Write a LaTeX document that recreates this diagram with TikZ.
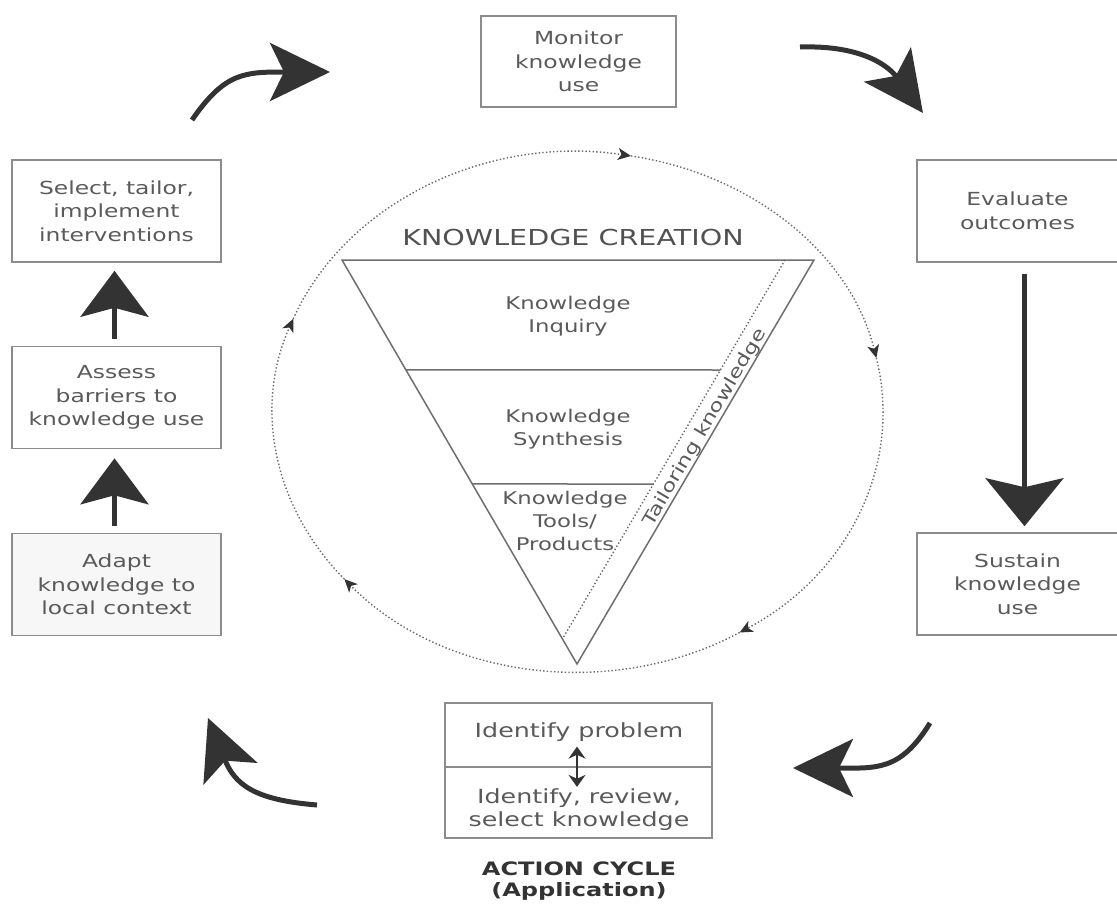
\documentclass[tikz,border=0pt]{standalone}
\usepackage{fontspec}
\setmainfont{DejaVu Sans}[FakeStretch=1.3]
\usetikzlibrary{arrows.meta,calc}
\definecolor{boxgray}{HTML}{8C8C8C}
\definecolor{txtgray}{HTML}{5A5A5A}
\definecolor{arrdark}{HTML}{333333}
\definecolor{trigray}{HTML}{6E6E6E}
\definecolor{dotgray}{HTML}{6A6A6A}
\definecolor{adaptfill}{HTML}{F7F7F7}
\begin{document}
\begin{tikzpicture}
  [x=1pt, y=-1pt,
   box/.style={draw=boxgray, line width=1.6pt, minimum width=209pt, minimum height=102pt, inner sep=0pt, align=center, text=txtgray, font=\fontsize{18}{23.5}\selectfont},
   tritext/.style={align=center, text=txtgray, inner sep=0pt, font=\fontsize{17.5}{23}\selectfont},
   dots/.style={draw=dotgray, line width=1.4pt, dash pattern=on 1.4pt off 2.2pt},
   bigarr/.style={draw=arrdark, line width=5pt, -{Stealth[length=60pt, width=58pt, inset=14pt]}},
   uparr/.style={draw=arrdark, line width=5pt, -{Stealth[length=46pt, width=68pt, inset=9pt]}},
   dbl/.style={draw=arrdark, line width=2.5pt, {Stealth[length=12pt, width=17pt]}-{Stealth[length=12pt, width=17pt]}},
   cyc/.style={dots, -{Stealth[length=13pt, width=12pt, inset=3.5pt, color=arrdark]}}]
  \useasboundingbox (0,0) rectangle (1117,905);
  % Define boxes
  \node[box, minimum width=195pt, minimum height=91pt] (monitor) at (578.5,61.5) {Monitor\\knowledge\\use};
  \node[box] (select) at (116.5,211) {Select, tailor,\\implement\\interventions};
  \node[box] (assess) at (116.5,397.5) {Assess\\barriers to\\knowledge use};
  \node[box, fill=adaptfill] (adapt) at (116.5,584.5) {Adapt\\knowledge to\\local context};
  \node[box, minimum width=201pt] (evaluate) at (1017.5,211) {Evaluate\\outcomes};
  \node[box, minimum width=201pt] (sustain) at (1017.5,584) {Sustain\\knowledge\\use};
  \node[box, minimum width=267pt, minimum height=135pt] (idbox) at (578.5,770.5) {};
  \draw[draw=boxgray, line width=1.6pt] (idbox.west |- 0,767) -- (idbox.east |- 0,767);
  \node[tritext, font=\fontsize{19.5}{23}\selectfont] (problem) at (579,732) {Identify problem};
  \node[tritext, font=\fontsize{19.5}{23}\selectfont] (review) at (579,810) {Identify, review,\\select knowledge};
  \node[align=center, text=arrdark, inner sep=0pt, font=\bfseries\fontsize{18.5}{21}\selectfont] (action) at (579,881) {ACTION CYCLE\\(Application)};
  % Define triangle
  \coordinate (tl) at (342,260);
  \coordinate (tr) at (814,260);
  \coordinate (tb) at (577,664);
  \coordinate (dt) at (785,260);
  \coordinate (db) at (563,638);
  \draw[draw=trigray, line width=1.5pt, line join=miter] (tl) -- (tr) -- (tb) -- cycle;
  \draw[dots] (dt) -- (db);
  \draw[draw=trigray, line width=1.5pt] ($(tl)!0.272!(tb)$) -- ($(dt)!0.291!(db)$);
  \draw[draw=trigray, line width=1.5pt] ($(tl)!0.554!(tb)$) -- ($(dt)!0.593!(db)$);
  \node[tritext, font=\fontsize{22}{26}\selectfont, text=txtgray!90!black] (creation) at (573,237) {KNOWLEDGE CREATION};
  \node[tritext] (inquiry) at (568,316) {Knowledge\\Inquiry};
  \node[tritext] (synthesis) at (568,429) {Knowledge\\Synthesis};
  \node[tritext] (tools) at (565,521) {Knowledge\\Tools/\\Products};
  \path (tb) -- (tr) node[tritext, pos=0.574, sloped, above=0.5pt] (tailor) {Tailoring knowledge};
  % Define dotted cycle
  \coordinate (ec) at (578,412);
  \foreach \a/\b in {201/280, 280/348, 348/418, 418/500, 500/561}
    \draw[cyc] ($(ec)+(\a:305 and 260)$) arc[start angle=\a, end angle=\b, x radius=305, y radius=260];
  % Define action arrows
  \coordinate (a1s) at (192,120);
  \coordinate (a1e) at (330,72);
  \coordinate (a2s) at (800,47);
  \coordinate (a2e) at (923,113);
  \coordinate (a3s) at (930,723);
  \coordinate (a3e) at (793,768);
  \coordinate (a4s) at (317,805);
  \coordinate (a4e) at (208,718);
  \draw[bigarr] (a1s) .. controls (225,72) and (245,72) .. (a1e);
  \draw[bigarr] (a2s) .. controls (865,45) and (890,68) .. (a2e);
  \draw[bigarr] (a3s) .. controls (900,772) and (875,768) .. (a3e);
  \draw[bigarr] (a4s) .. controls (255,800) and (235,785) .. (a4e);
  \draw[uparr] ($(adapt.north)+(-2,-7)$) -- ($(assess.south)+(-2,9)$);
  \draw[uparr] ($(assess.north)+(-2,-7)$) -- ($(select.south)+(-2,8)$);
  \draw[uparr, -{Stealth[length=48pt, width=78pt, inset=9pt]}] ($(evaluate.south)+(7,11)$) -- ($(sustain.north)+(7,-6)$);
  \draw[dbl] ($(problem.south)+(-2,5)$) -- ($(review.north)+(-2,-2)$);
\end{tikzpicture}
\end{document}
